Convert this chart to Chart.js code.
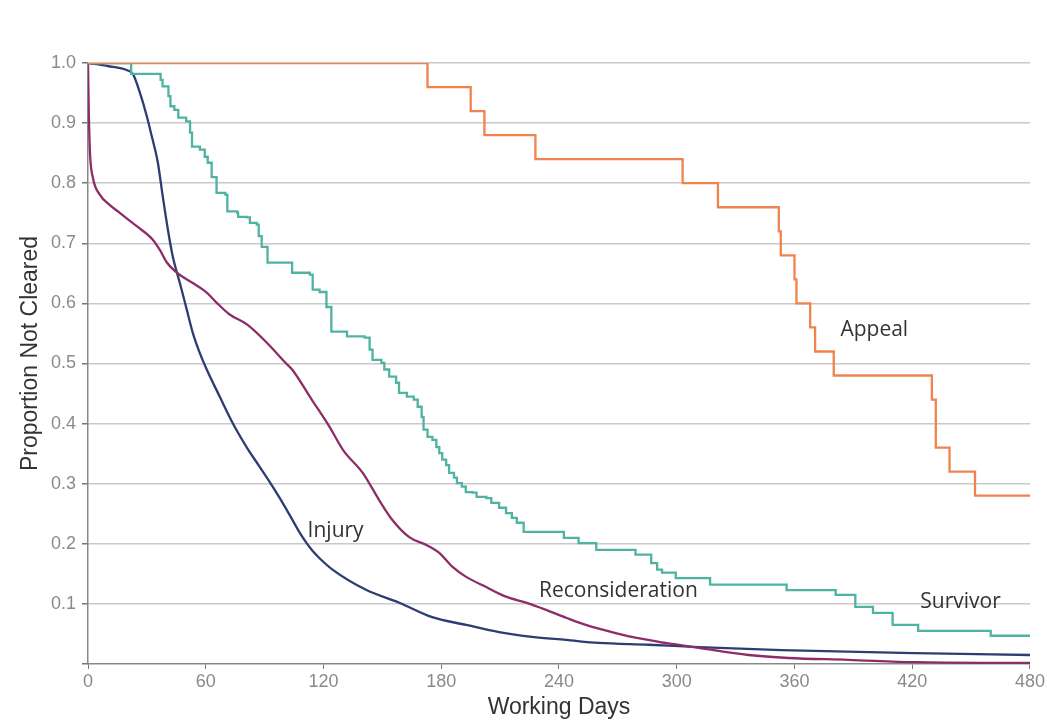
<!DOCTYPE html>
<html>
<head>
<meta charset="utf-8">
<script src="https://cdn.jsdelivr.net/npm/chart.js@4.4.0/dist/chart.umd.min.js"></script>
<style>
  html, body { margin: 0; padding: 0; background: #fff; }
  canvas { display: block; }
</style>
</head>
<body>
<canvas id="chart" width="1047" height="726"></canvas>
<script>
// x axis: working days, y axis: proportion not cleared
const xTicks = [0, 60, 120, 180, 240, 300, 360, 420, 480];

const appealDays = [0, 173, 195, 202, 228, 303, 321, 352, 353, 360, 361, 368, 370.5, 380, 430, 432, 439, 452, 480];
const appealVals = [1.0, 0.96, 0.92, 0.88, 0.84, 0.80, 0.76, 0.72, 0.68, 0.64, 0.60, 0.56, 0.52, 0.48, 0.44, 0.36, 0.32, 0.28, 0.28];

const survivorDays = [0, 22, 37, 38, 41, 42, 44, 46, 50, 52, 53, 57, 59.5, 61, 63, 65.5, 70, 71, 76, 76.5,
  81, 82.5, 86, 87, 88.5, 91.5, 104, 113, 114.5, 118, 121.5, 124, 132, 141, 143.5, 145, 149.5, 151, 153.5, 157,
  158.5, 162.5, 166, 168, 170, 171, 173, 175.5, 177.5, 179, 180.5, 182.5, 184, 186.5, 188, 190.5, 192.5, 196, 198, 203,
  205.5, 209.5, 213, 216, 218.5, 222, 242.5, 250, 259, 279, 287, 290, 292.5, 299.5, 317, 356, 381, 391, 400, 410,
  423, 460, 480];
const survivorVals = [1.0, 0.982, 0.972, 0.961, 0.945, 0.928, 0.922, 0.909, 0.903, 0.884, 0.861, 0.856, 0.844, 0.834, 0.81, 0.784, 0.781, 0.753, 0.751, 0.744,
  0.743, 0.734, 0.731, 0.712, 0.694, 0.668, 0.651, 0.648, 0.623, 0.619, 0.594, 0.553, 0.545, 0.543, 0.523, 0.506, 0.501, 0.49, 0.478, 0.468,
  0.451, 0.445, 0.44, 0.428, 0.411, 0.39, 0.378, 0.373, 0.361, 0.351, 0.34, 0.331, 0.318, 0.31, 0.301, 0.295, 0.286, 0.285, 0.278, 0.276,
  0.268, 0.26, 0.251, 0.243, 0.235, 0.22, 0.21, 0.201, 0.19, 0.182, 0.168, 0.157, 0.152, 0.143, 0.132, 0.123, 0.115, 0.095, 0.085, 0.065,
  0.055, 0.047, 0.047];

const reconDays = [0, 0.4, 1, 2.5, 6, 11, 16, 25, 33, 36.6, 40.2, 45.3, 53.4, 60.5, 65.6, 72, 81, 91, 101, 104,
  114, 123, 130, 140, 148.5, 155, 163.7, 172.4, 179, 185.6, 192.7, 202.9, 213, 223.2, 233.4, 243.6, 253.7, 266.9, 277.1, 290.8,
  301, 311.2, 336.6, 356.9, 387.4, 421.5, 455, 480];
const reconVals = [1.0, 0.92, 0.851, 0.809, 0.781, 0.764, 0.751, 0.728, 0.706, 0.689, 0.668, 0.651, 0.634, 0.618, 0.601, 0.582, 0.565, 0.535, 0.5, 0.49,
  0.44, 0.395, 0.356, 0.318, 0.272, 0.24, 0.211, 0.198, 0.185, 0.162, 0.145, 0.128, 0.112, 0.102, 0.09, 0.077, 0.065, 0.053, 0.045, 0.037,
  0.032, 0.027, 0.015, 0.01, 0.007, 0.003, 0.002, 0.002];

const injuryDays = [0, 10, 20, 23, 26.4, 30, 32.5, 35.6, 38.1, 40.7, 43.2, 46.8, 50.3, 53.4, 56.9, 60.5, 67.1, 73.7, 80.8, 87.5,
  94.1, 101.2, 107.8, 111.4, 114.5, 118, 124.6, 141.9, 158.6, 175.4, 192.7, 209.5, 226.3, 243.6, 260.3, 285.8, 311.2, 353.4, 421.5, 480];
const injuryVals = [1.0, 0.995, 0.988, 0.981, 0.951, 0.911, 0.878, 0.834, 0.778, 0.723, 0.678, 0.634, 0.59, 0.551, 0.518, 0.49, 0.445, 0.401, 0.361, 0.328,
  0.295, 0.257, 0.219, 0.201, 0.188, 0.176, 0.157, 0.123, 0.102, 0.078, 0.065, 0.053, 0.045, 0.04, 0.035, 0.032, 0.028, 0.023, 0.018, 0.015];

const seriesNames = ["Appeal", "Survivor", "Reconsideration", "Injury"];

const toPoints = (days, vals) => days.map((d, i) => ({ x: d, y: vals[i] }));

// in-plot labels, placed in data coordinates
const curveLabels = [
  { text: "Appeal", x: 383.4, y: 0.546 },
  { text: "Injury", x: 111.9, y: 0.211 },
  { text: "Reconsideration", x: 229.8, y: 0.112 },
  { text: "Survivor", x: 424.1, y: 0.093 },
];

const fontFamily = "'Liberation Sans', Arial, sans-serif";

const labelPlugin = {
  id: "curveLabels",
  afterDatasetsDraw(chart) {
    const { ctx, scales } = chart;
    ctx.save();
    ctx.font = "21px 'Open Sans'";
    ctx.fillStyle = "#333";
    ctx.textAlign = "left";
    ctx.textBaseline = "alphabetic";
    curveLabels.forEach((l) => {
      ctx.fillText(l.text, scales.x.getPixelForValue(l.x), scales.y.getPixelForValue(l.y));
    });
    // y axis title, sits a little above the middle of the axis
    const y = scales.y;
    ctx.translate(31, (y.top + y.bottom) / 2 - 10);
    ctx.rotate(-Math.PI / 2);
    ctx.textAlign = "center";
    ctx.textBaseline = "middle";
    ctx.font = "23px " + fontFamily;
    ctx.fillText("Proportion Not Cleared", 0, 0);
    ctx.restore();
  },
};

const tickFont = { family: fontFamily, size: 18 };
const titleFont = { family: fontFamily, size: 23 };

new Chart(document.getElementById("chart"), {
  type: "line",
  data: {
    datasets: [
      { label: seriesNames[0], data: toPoints(appealDays, appealVals), borderColor: "#f0834c", stepped: "before" },
      { label: seriesNames[1], data: toPoints(survivorDays, survivorVals), borderColor: "#4fb3a2", stepped: "before" },
      { label: seriesNames[2], data: toPoints(reconDays, reconVals), borderColor: "#8c2d68", cubicInterpolationMode: "monotone" },
      { label: seriesNames[3], data: toPoints(injuryDays, injuryVals), borderColor: "#2b3d72", cubicInterpolationMode: "monotone" },
    ],
  },
  options: {
    responsive: false,
    animation: false,
    events: [],
    layout: { padding: { left: 10, top: 63, right: 15, bottom: 0 } },
    elements: {
      point: { radius: 0 },
      line: { borderWidth: 2.3, fill: false },
    },
    plugins: { legend: { display: false }, tooltip: { enabled: false } },
    scales: {
      x: {
        type: "linear",
        min: 0,
        max: 480,
        afterBuildTicks: (scale) => { scale.ticks = xTicks.map((v) => ({ value: v })); },
        afterFit: (scale) => { scale.height = 62; },
        ticks: { font: tickFont, color: "#8a8a8a", padding: 2, maxRotation: 0 },
        grid: { drawOnChartArea: false, tickLength: 5, tickColor: "#777" },
        border: { color: "#888", width: 1.5 },
        title: { display: true, text: "Working Days", font: titleFont, color: "#333", padding: { top: 0, bottom: 5 } },
      },
      y: {
        min: 0,
        max: 1,
        afterFit: (scale) => { scale.width = 78; },
        ticks: {
          stepSize: 0.1,
          font: tickFont,
          color: "#8a8a8a",
          padding: 6,
          callback: (v) => (v === 0 ? "" : v.toFixed(1)),
        },
        grid: {
          color: (c) => (c.tick && c.tick.value === 0 ? "rgba(0,0,0,0)" : "#c9c9c9"),
          tickColor: "#777",
          tickLength: 6,
          lineWidth: 1.5,
        },
        border: { color: "#888", width: 1.5 },
      },
    },
  },
  plugins: [labelPlugin],
});
</script>
</body>
</html>
